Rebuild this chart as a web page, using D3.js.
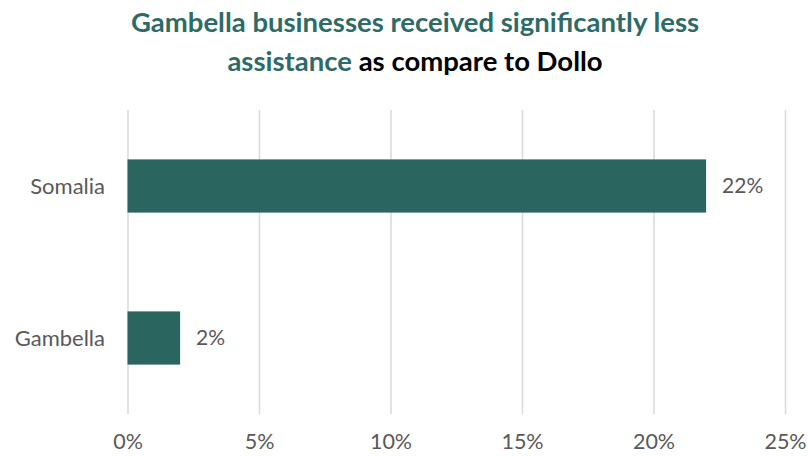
<!DOCTYPE html>
<html>
<head>
<meta charset="utf-8">
<script src="https://cdn.jsdelivr.net/npm/d3@7"></script>
<style>
  html, body { margin: 0; padding: 0; background: #fff; }
  svg { display: block; }
</style>
</head>
<body>
<svg id="chart" width="808" height="456"></svg>
<script>
// Share of businesses that received assistance, by region
const regions = ["Somalia", "Gambella"];
const assisted = [22, 2];
const tickValues = [0, 5, 10, 15, 20, 25];

const W = 808, H = 456;
const margin = { top: 110, right: 23, bottom: 42, left: 127.5 };
const font = "Lato, 'Open Sans', sans-serif";
const barColor = "#2b6560";
const titleGreen = "#2e6b66";
const textGray = "#595959";

const svg = d3.select("#chart");

const x = d3.scaleLinear().domain([0, 25]).range([margin.left, W - margin.right]);
const pi = 0.65;
const y = d3.scaleBand().domain(regions).range([margin.top, H - margin.bottom])
  .paddingInner(pi).paddingOuter(pi / 2);

// Title
const title = svg.append("text")
  .attr("text-anchor", "middle")
  .attr("font-family", font)
  .attr("font-weight", 700)
  .attr("font-size", 27.5);
title.append("tspan").attr("x", 415).attr("y", 32)
  .attr("fill", titleGreen).text("Gambella businesses received significantly less");
const l2 = title.append("tspan").attr("x", 415).attr("y", 71);
l2.append("tspan").attr("fill", titleGreen).text("assistance");
l2.append("tspan").attr("fill", "#000").text(" as compare to Dollo");

// Vertical gridlines and percentage ticks
const xAxis = d3.axisBottom(x).tickValues(tickValues)
  .tickSize(-(H - margin.bottom - margin.top))
  .tickFormat(d => d + "%");
const gx = svg.append("g")
  .attr("transform", `translate(0,${H - margin.bottom})`)
  .call(xAxis);
gx.select(".domain").remove();
gx.selectAll(".tick line").attr("stroke", "#d9d9d9").attr("stroke-width", 1.5);
gx.selectAll(".tick text")
  .attr("fill", textGray)
  .attr("font-family", font)
  .attr("font-size", 21.5)
  .attr("dy", 0)
  .attr("y", 35);

// Bars
svg.append("g").selectAll("rect")
  .data(regions)
  .join("rect")
  .attr("x", x(0))
  .attr("y", d => y(d))
  .attr("width", (d, i) => x(assisted[i]) - x(0))
  .attr("height", y.bandwidth())
  .attr("fill", barColor);

// Value labels
svg.append("g").selectAll("text")
  .data(regions)
  .join("text")
  .attr("x", (d, i) => x(assisted[i]) + 16)
  .attr("y", d => y(d) + y.bandwidth() / 2)
  .attr("dy", "0.35em")
  .attr("fill", textGray)
  .attr("font-family", font)
  .attr("font-size", 21)
  .text((d, i) => assisted[i] + "%");

// Category labels
svg.append("g").selectAll("text")
  .data(regions)
  .join("text")
  .attr("x", 105)
  .attr("y", d => y(d) + y.bandwidth() / 2)
  .attr("dy", "0.35em")
  .attr("text-anchor", "end")
  .attr("fill", textGray)
  .attr("font-family", font)
  .attr("font-size", 22)
  .text(d => d);
</script>
</body>
</html>
